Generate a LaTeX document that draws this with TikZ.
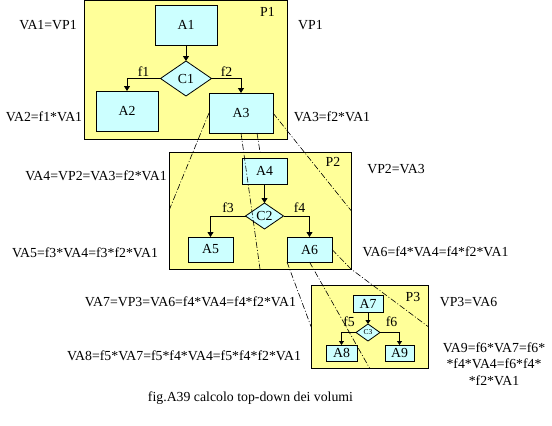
\documentclass[tikz,border=0pt]{standalone}
\usepackage{fontspec}
\setmainfont{Liberation Serif}
\usetikzlibrary{shapes.geometric,arrows.meta}
\definecolor{panelc}{HTML}{FFFF99}
\definecolor{boxc}{HTML}{CCFFFF}
\begin{document}
\begin{tikzpicture}[x=1pt,y=-1pt,
  every node/.style={font=\fontsize{13.8}{16.5}\selectfont, inner sep=0pt, outer sep=0pt},
  sz/.style 2 args={minimum width=#1pt, minimum height=#2pt},
  panel/.style={draw, fill=panelc, line width=0.8pt},
  blk/.style={draw, fill=boxc, line width=0.8pt},
  dec/.style={diamond, draw, fill=boxc, line width=0.8pt},
  flow/.style={line width=0.8pt, -{Triangle[width=6pt,length=5pt]}},
  flows/.style={line width=0.8pt, -{Triangle[width=5pt,length=4pt]}},
  proj/.style={line width=0.6pt, dash pattern=on 6pt off 2pt on 1pt off 2pt}]
\useasboundingbox (0,0) rectangle (552,426);

% panels
\node[panel, sz={203}{138.5}] (P1) at (185.5,69.75) {};
\node[panel, sz={182}{117}] (P2) at (260,210.5) {};
\node[panel, sz={117}{83}] (P3) at (369.5,326.5) {};
\node (p1l) at (267.5,12) {P1};
\node (p2l) at (333,162) {P2};
\node (p3l) at (413,297) {P3};

% level 1
\node[blk, sz={62}{40}] (A1) at (186,25) {A1};
\node[dec, sz={51}{35}] (C1) at (186,78.5) {C1};
\node[blk, sz={62}{40}] (A2) at (127,111) {A2};
\node[blk, sz={64}{40}] (A3) at (241,113) {A3};
\node (f1) at (143.5,71.5) {f1};
\node (f2) at (226.5,71.5) {f2};
\draw[flow] (A1.south) -- (C1.north);
\draw[flow] (C1.west) -| (A2.north);
\draw[flow] (C1.east) -| (A3.north);

% level 2
\node[blk, sz={45}{26}] (A4) at (264.5,171) {A4};
\node[dec, sz={38}{26}] (C2) at (264.5,216) {C2};
\node[blk, sz={45}{25}] (A5) at (210.5,249.5) {A5};
\node[blk, sz={45}{25}] (A6) at (309.5,249.5) {A6};
\node (f3) at (228,207.5) {f3};
\node (f4) at (299.5,207.5) {f4};
\draw[flow] (A4.south) -- (C2.north);
\draw[flow] (C2.west) -| (A5.north);
\draw[flow] (C2.east) -| (A6.north);

% level 3
\node[blk, sz={30}{17}] (A7) at (368,303.5) {A7};
\node[dec, sz={24}{17}, font=\fontsize{7.5}{9}\selectfont] (C3) at (368,332.5) {C3};
\node[blk, sz={31}{16}] (A8) at (341.5,353) {A8};
\node[blk, sz={29}{16}] (A9) at (399.5,353) {A9};
\node (f5) at (349,321.5) {f5};
\node (f6) at (391.5,321.5) {f6};
\draw[flows] (A7.south) -- (C3.north);
\draw[flows] (C3.west) -| (A8.north);
\draw[flows] (C3.east) -| (A9.north);

% projection lines
\draw[proj] (A3.west) -- (P2.west);
\draw[proj] (A3.south) -- (P2.south);
\draw[proj] ([xshift=16pt]A3.south) -- (P2.north);
\draw[proj] (A3.east) -- (P2.east);
\draw[proj] (A6.south west) -- (P3.west);
\draw[proj] (A6.south) -- (P3.south);
\draw[proj] (A6.east) -- (P2.south east) -- (P3.east);

% labels
\node (t1) at (48,25) {VA1=VP1};
\node (t2) at (310.5,25) {VP1};
\node (t3) at (44,117) {VA2=f1*VA1};
\node (t4) at (332,117) {VA3=f2*VA1};
\node (t5) at (96,175.5) {VA4=VP2=VA3=f2*VA1};
\node (t6) at (396,169.5) {VP2=VA3};
\node (t7) at (85,252.5) {VA5=f3*VA4=f3*f2*VA1};
\node (t8) at (435.5,252) {VA6=f4*VA4=f4*f2*VA1};
\node (t9) at (190.5,302) {VA7=VP3=VA6=f4*VA4=f4*f2*VA1};
\node (t10) at (468.5,302) {VP3=VA6};
\node (t11) at (184,356) {VA8=f5*VA7=f5*f4*VA4=f5*f4*f2*VA1};
\node[align=center] (t12) at (494,364) {VA9=f6*VA7=f6*\\*f4*VA4=f6*f4*\\*f2*VA1};
\node (cap) at (250.5,398.5) {fig.A39 calcolo top-down dei volumi};
\end{tikzpicture}
\end{document}
